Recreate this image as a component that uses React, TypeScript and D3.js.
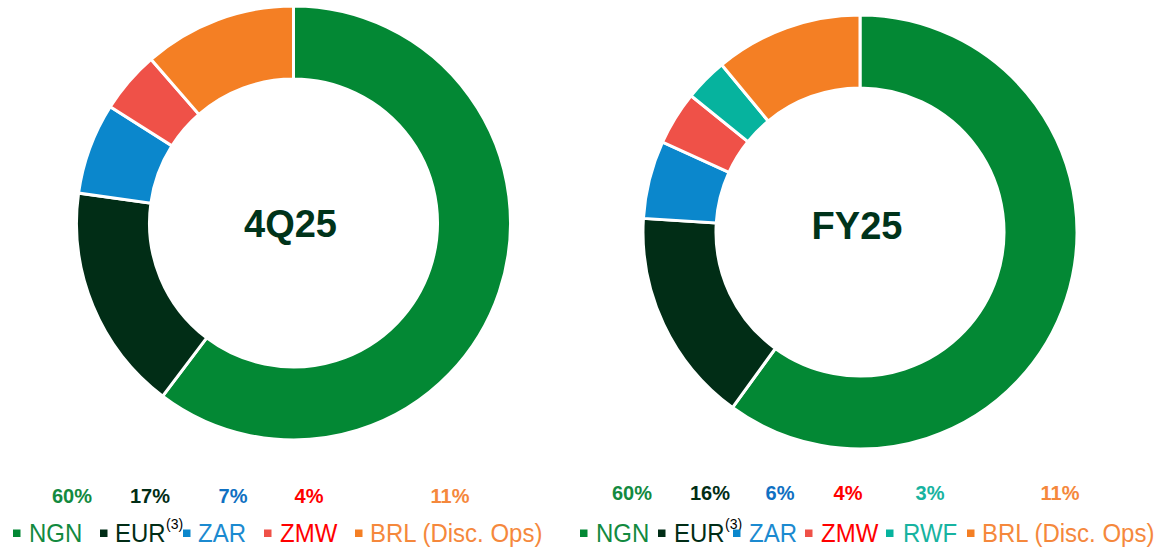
import React from "react";
import * as d3 from "d3";

// ---- Data ----
const q4Categories = ["NGN", "EUR", "ZAR", "ZMW", "BRL"];
const q4Values = [60.3, 16.9, 6.8, 4.6, 11.4];
const q4Labels = ["60%", "17%", "7%", "4%", "11%"];

const fyCategories = ["NGN", "EUR", "ZAR", "ZMW", "RWF", "BRL"];
const fyValues = [60.0, 16.0, 5.8, 4.0, 3.2, 11.0];
const fyLabels = ["60%", "16%", "6%", "4%", "3%", "11%"];

const legendNames: Record<string, string> = {
  NGN: "NGN",
  EUR: "EUR",
  ZAR: "ZAR",
  ZMW: "ZMW",
  RWF: "RWF",
  BRL: "BRL (Disc. Ops)",
};

// ---- Styles ----
const sliceColor: Record<string, string> = {
  NGN: "#038834",
  EUR: "#012d16",
  ZAR: "#0b87cc",
  ZMW: "#ef5148",
  RWF: "#06b39e",
  BRL: "#f47f24",
};
const pctColor: Record<string, string> = {
  NGN: "#138a3f",
  EUR: "#012d16",
  ZAR: "#0f70c2",
  ZMW: "#ff0000",
  RWF: "#17b3a0",
  BRL: "#f5883c",
};
const legendTextColor: Record<string, string> = {
  NGN: "#138a3f",
  EUR: "#012d16",
  ZAR: "#1b8ad0",
  ZMW: "#ff0000",
  RWF: "#17b3a0",
  BRL: "#f5883c",
};

const FONT = "'Liberation Sans', Arial, sans-serif";

type Layout = {
  cx: number;
  cy: number;
  title: string;
  titleBaseline: number;
  pctX: number[];
  pctBaseline: number;
  squareX: number[];
  textX: number[];
  legendBaseline: number;
};

const q4Layout: Layout = {
  cx: 293.5,
  cy: 223,
  title: "4Q25",
  titleBaseline: 237,
  pctX: [72, 150, 233, 309, 450],
  pctBaseline: 503,
  squareX: [13, 100, 183, 264, 355],
  textX: [29, 115, 198, 280, 370],
  legendBaseline: 542,
};
const fyLayout: Layout = {
  cx: 860,
  cy: 232,
  title: "FY25",
  titleBaseline: 239,
  pctX: [632, 710, 780, 848, 930, 1060],
  pctBaseline: 500,
  squareX: [580, 658, 733, 805, 886, 967],
  textX: [596, 674, 749, 821, 903, 982],
  legendBaseline: 542,
};

const OUTER = 217;
const INNER = 144;

function Donut({
  cats,
  values,
  labels,
  layout,
}: {
  cats: string[];
  values: number[];
  labels: string[];
  layout: Layout;
}) {
  const pie = d3
    .pie<number>()
    .sort(null)
    .value((d) => d);
  const arcs = pie(values);
  const arc = d3.arc<d3.PieArcDatum<number>>().innerRadius(INNER).outerRadius(OUTER);
  return (
    <g>
      <g transform={`translate(${layout.cx},${layout.cy})`}>
        {arcs.map((a, i) => (
          <path
            key={i}
            d={arc(a) || ""}
            fill={sliceColor[cats[i]]}
            stroke="#ffffff"
            strokeWidth={3}
          />
        ))}
      </g>
      <text
        x={layout.cx - 3}
        y={layout.titleBaseline}
        textAnchor="middle"
        fontFamily={FONT}
        fontWeight="bold"
        fontSize={38}
        fill="#00331a"
      >
        {layout.title}
      </text>
      {labels.map((l, i) => (
        <text
          key={"p" + i}
          x={layout.pctX[i]}
          y={layout.pctBaseline}
          textAnchor="middle"
          fontFamily={FONT}
          fontWeight="bold"
          fontSize={20}
          fill={pctColor[cats[i]]}
        >
          {l}
        </text>
      ))}
      {cats.map((c, i) => (
        <g key={"l" + i}>
          <rect
            x={layout.squareX[i]}
            y={layout.legendBaseline - 12.5}
            width={7.5}
            height={7.5}
            fill={sliceColor[c]}
          />
          <g transform={`translate(${layout.textX[i]},${layout.legendBaseline}) scale(1,1.1)`}>
            <text
              x={0}
              y={0}
              fontFamily={FONT}
              fontSize={24}
              fill={legendTextColor[c]}
            >
              {legendNames[c]}
            </text>
          </g>
          {c === "EUR" && (
            <text
              x={layout.textX[i] + 51}
              y={layout.legendBaseline - 13}
              fontFamily={FONT}
              fontSize={14}
              fill="#000000"
            >
              (3)
            </text>
          )}
        </g>
      ))}
    </g>
  );
}

export default function App() {
  return (
    <svg
      width={1158}
      height={553}
      style={{ position: "absolute", left: 0, top: 0, background: "#ffffff" }}
    >
      <rect width={1158} height={553} fill="#ffffff" />
      <Donut cats={q4Categories} values={q4Values} labels={q4Labels} layout={q4Layout} />
      <Donut cats={fyCategories} values={fyValues} labels={fyLabels} layout={fyLayout} />
    </svg>
  );
}
